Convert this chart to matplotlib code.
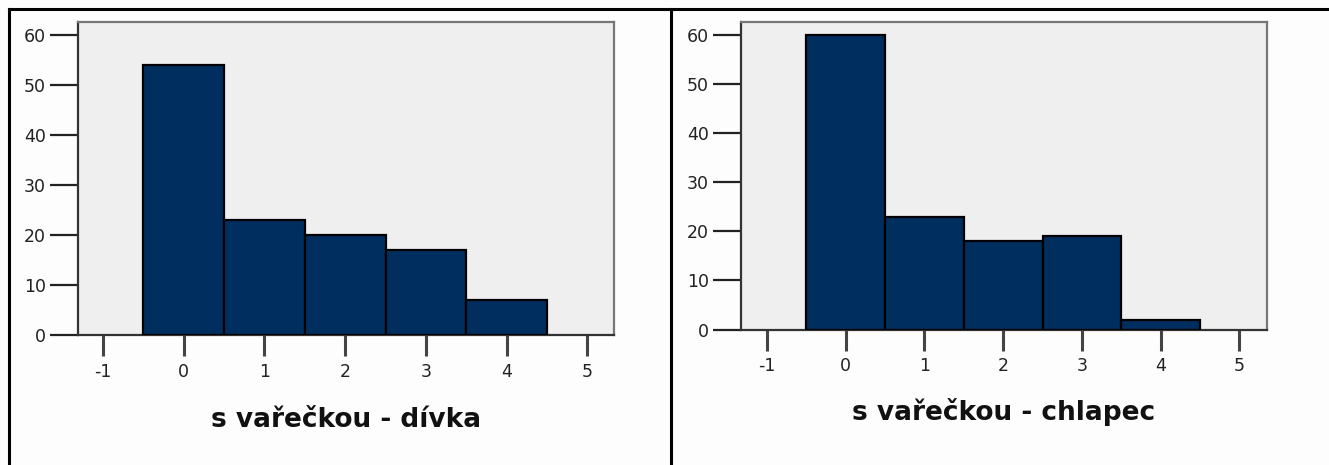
import numpy as np
import matplotlib
matplotlib.use('Agg')
import matplotlib.pyplot as plt
from matplotlib.lines import Line2D

# hodnoty
kategorie = [0, 1, 2, 3, 4]
divka = [54, 23, 20, 17, 7]
chlapec = [60, 23, 18, 19, 2]
xticks = [-1, 0, 1, 2, 3, 4, 5]
yticks = [0, 10, 20, 30, 40, 50, 60]
popisky = ['s vařečkou - dívka', 's vařečkou - chlapec']

plt.rcParams['axes.unicode_minus'] = False

W, H = 1329, 465
fig = plt.figure(figsize=(W / 100, H / 100), dpi=100)
fig.patch.set_facecolor('#fdfdfd')

BAR = '#002f5f'
FACE = '#efefef'


def box(l, t, r, b):
    return [l / W, 1 - b / H, (r - l) / W, (b - t) / H]


def histogram(ax, values, xlim, ylim):
    ax.set_facecolor(FACE)
    ax.bar(kategorie, values, width=1.0, color=BAR, edgecolor='black', linewidth=1.6, zorder=3)
    ax.set_xlim(*xlim)
    ax.set_ylim(*ylim)
    ax.set_xticks(xticks)
    ax.set_yticks(yticks)
    ax.tick_params(axis='y', length=20, width=1.6, color='#222222', labelsize=12.5,
                   labelcolor='#222222', pad=3)
    ax.tick_params(axis='x', length=15, width=2.2, color='#444444', labelsize=12.5,
                   labelcolor='#222222', pad=5)
    for s in ['left', 'bottom']:
        ax.spines[s].set_color('#333333')
        ax.spines[s].set_linewidth(1.6)
    for s in ['top', 'right']:
        ax.spines[s].set_color('#777777')
        ax.spines[s].set_linewidth(1.6)


ax1 = fig.add_axes(box(78, 21.7, 614, 335))
histogram(ax1, divka, (-1.31, 5.33), (0, 62.7))
ax2 = fig.add_axes(box(741, 21.7, 1267, 329.5))
histogram(ax2, chlapec, (-1.33, 5.35), (0, 62.8))

fig.text(346 / W, 1 - 427 / H, popisky[0], ha='center', va='baseline',
         fontsize=19, fontweight='bold', color='#111111')
fig.text(1004 / W, 1 - 420 / H, popisky[1], ha='center', va='baseline',
         fontsize=19, fontweight='bold', color='#111111')

# rámeček tabulky
fig.add_artist(Line2D([9 / W, 1], [1 - 8.7 / H, 1 - 8.7 / H], color='black', lw=2.2))
fig.add_artist(Line2D([9 / W, 9 / W], [0, 1 - 8.7 / H], color='black', lw=2.2))
fig.add_artist(Line2D([671 / W, 671 / W], [0, 1 - 8.7 / H], color='black', lw=2.2))

fig.savefig('out.png', dpi=100, facecolor=fig.get_facecolor())
